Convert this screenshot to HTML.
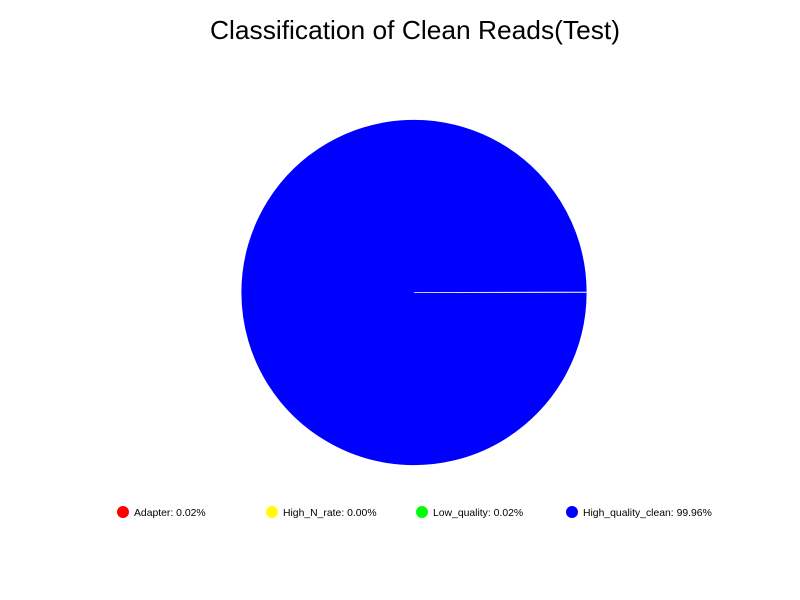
<!DOCTYPE html>
<html><head><meta charset="utf-8"><style>
body{margin:0;background:#fff;}
svg{display:block;font-family:"Liberation Sans",sans-serif;}
</style></head><body>
<svg width="800" height="600">
<text x="415" y="39" text-anchor="middle" font-size="26" textLength="410" lengthAdjust="spacingAndGlyphs">Classification of Clean Reads(Test)</text>
<g id="slices"></g>
<g id="legend"></g>
</svg>
<script>
const categories=["Adapter","High_N_rate","Low_quality","High_quality_clean"];
const values=[0.02,0.00,0.02,99.96];
const labels=["0.02%","0.00%","0.02%","99.96%"];
const colors=["#ff0000","#ffff00","#00ff00","#0000ff"];
const NS="http://www.w3.org/2000/svg";
const cx=414,cy=292.5,r=173;
const total=values.reduce((a,b)=>a+b,0);
let ang=0;
const sg=document.getElementById('slices');
values.forEach((v,i)=>{
  const a0=ang,a1=ang+v/total*2*Math.PI;ang=a1;
  if(v<=0)return;
  const x0=cx+r*Math.cos(a0),y0=cy-r*Math.sin(a0);
  const x1=cx+r*Math.cos(a1),y1=cy-r*Math.sin(a1);
  const large=(a1-a0)>Math.PI?1:0;
  const p=document.createElementNS(NS,'path');
  p.setAttribute('d',`M${cx},${cy}L${x0},${y0}A${r},${r} 0 ${large} 0 ${x1},${y1}Z`);
  p.setAttribute('fill',colors[i]);
  p.setAttribute('stroke','#fff');
  p.setAttribute('stroke-width','0.8');
  
  
  sg.appendChild(p);
});
const lg=document.getElementById('legend');
const lx=[123,272,422,572];
categories.forEach((c,i)=>{
  const g=document.createElementNS(NS,'g');
  
  
  const ci=document.createElementNS(NS,'circle');
  ci.setAttribute('cx',lx[i]);ci.setAttribute('cy',512);ci.setAttribute('r',6);ci.setAttribute('fill',colors[i]);
  const t=document.createElementNS(NS,'text');
  t.setAttribute('x',lx[i]+11);t.setAttribute('y',516);t.setAttribute('font-size','10.4');
  t.textContent=c+": "+labels[i];
  g.appendChild(ci);g.appendChild(t);lg.appendChild(g);
});
</script>
</body></html>
